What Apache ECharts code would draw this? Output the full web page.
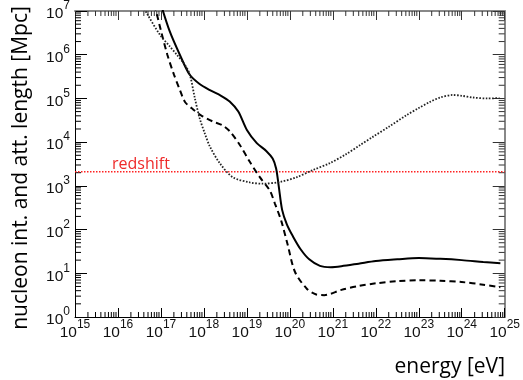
<!DOCTYPE html>
<html><head><meta charset="utf-8">
<script src="https://cdn.jsdelivr.net/npm/echarts@6/dist/echarts.min.js"></script>
<style>html,body{margin:0;padding:0;background:#fff}#c{width:523px;height:380px}</style>
</head><body><div id="c"></div>
<script>
// ---- data (energy in eV, length in Mpc) ----
const energySolid = [1.0e17, 1.58e17, 2.75e17, 4.68e17, 7.94e17, 1.38e18, 2.51e18, 3.98e18, 6.31e18, 1.0e19, 1.70e19, 2.82e19, 3.98e19, 4.79e19, 5.50e19, 6.61e19, 8.51e19, 1.17e20, 1.78e20, 2.82e20, 5.01e20, 8.91e20, 1.58e21, 3.98e21, 1.0e22, 3.16e22, 1.0e23, 3.16e23, 1.0e24, 3.16e24, 7.94e24];
const lengthSolid = [1.41e7, 3.55e6, 1.0e6, 3.47e5, 2.14e5, 1.55e5, 1.15e5, 8.5e4, 5.0e4, 1.9e4, 9.5e3, 6.3e3, 4.2e3, 2.5e3, 1.0e3, 282, 132, 71, 35.5, 20.9, 14.8, 13.8, 14.5, 16.6, 19.1, 20.9, 22.4, 21.4, 20.0, 18.2, 17.0];

const energyDashed = [7.08e16, 1.0e17, 1.41e17, 2.0e17, 2.75e17, 3.63e17, 5.62e17, 8.91e17, 1.58e18, 2.75e18, 3.98e18, 6.92e18, 1.17e19, 2.0e19, 3.39e19, 4.47e19, 6.31e19, 8.91e19, 1.32e20, 2.51e20, 3.98e20, 6.31e20, 1.58e21, 3.98e21, 1.0e22, 3.16e22, 1.0e23, 3.16e23, 1.0e24, 3.16e24, 7.94e24];
const lengthDashed = [1.41e7, 3.55e6, 1.0e6, 3.55e5, 1.58e5, 8.3e4, 5.6e4, 4.0e4, 3.0e4, 2.4e4, 1.78e4, 8.5e3, 3.55e3, 1.58e3, 794, 398, 158, 44.7, 10.7, 4.37, 3.31, 3.16, 4.17, 5.13, 5.89, 6.61, 6.92, 6.76, 6.31, 5.5, 4.79];

const energyDotted = [3.16e16, 4.68e16, 9.55e16, 1.58e17, 2.34e17, 3.55e17, 4.68e17, 6.17e17, 7.94e17, 1.05e18, 1.38e18, 2.34e18, 4.68e18, 1.17e19, 2.34e19, 5.89e19, 1.45e20, 3.39e20, 8.51e20, 2.0e21, 4.27e21, 8.51e21, 2.0e22, 5.25e22, 1.0e23, 1.82e23, 3.16e23, 6.17e23, 1.0e24, 1.82e24, 3.98e24, 7.59e24];
const lengthDotted = [1.78e7, 8.9e6, 2.82e6, 1.58e6, 1.0e6, 6.0e5, 3.55e5, 1.0e5, 3.55e4, 1.58e4, 7.9e3, 3.3e3, 1.58e3, 1.2e3, 1.12e3, 1.23e3, 1.58e3, 2.29e3, 3.31e3, 5.25e3, 8.51e3, 1.32e4, 2.24e4, 4.17e4, 6.03e4, 8.32e4, 1.05e5, 1.2e5, 1.15e5, 1.05e5, 1.0e5, 1.02e5];

const energyRedshift = [1e15, 1e25];
const lengthRedshift = [2.1e3, 2.1e3];

// ---- axes / ticks ----
const xMin = 1e15, xMax = 1e25;
const yMin = 1, yMax = 1e7;
const xDecades = [15, 16, 17, 18, 19, 20, 21, 22, 23, 24];
const yDecades = [0, 1, 2, 3, 4, 5, 6];
const minorMultipliers = [2, 3, 4, 5, 6, 7, 8, 9];
const redshiftLabel = 'redshift';
const xTitle = 'energy [eV]';
const yTitle = 'nucleon int. and att. length [Mpc]';

const zip = (a, b) => a.map((v, i) => [v, b[i]]);

const labelFmt = v => '{b|10}{s|' + Math.round(Math.log10(v)) + '}';
const labelRich = {
  b: { fontSize: 15.5, fontFamily: 'Liberation Sans', color: '#111', padding: [6, 0, 0, 0], verticalAlign: 'bottom' },
  s: { fontSize: 12, fontFamily: 'Liberation Sans', color: '#111', verticalAlign: 'top' }
};

const chart = echarts.init(document.getElementById('c'), null, { renderer: 'canvas' });

function minorTicks(params, api) {
  const children = [];
  const push = (x1, y1, x2, y2, c) => children.push({
    type: 'line', shape: { x1, y1, x2, y2 },
    style: { stroke: c, lineWidth: 1 }
  });
  xDecades.forEach(d => minorMultipliers.forEach(m => {
    const v = m * Math.pow(10, d);
    const pb = api.coord([v, yMin]);
    const pt = api.coord([v, yMax]);
    push(pb[0], pb[1], pb[0], pb[1] - 5, '#000');
    push(pt[0], pt[1], pt[0], pt[1] + 5, '#333');
  }));
  yDecades.forEach(d => minorMultipliers.forEach(m => {
    const v = m * Math.pow(10, d);
    const pl = api.coord([xMin, v]);
    const pr = api.coord([xMax, v]);
    push(pl[0], pl[1], pl[0] + 6, pl[1], '#000');
    push(pr[0], pr[1], pr[0] - 6, pr[1], '#333');
  }));
  return { type: 'group', children };
}

chart.setOption({
  animation: false,
  backgroundColor: '#fff',
  grid: { left: 75, right: 18, top: 11, bottom: 63, containLabel: false },
  xAxis: [
    { type: 'log', logBase: 10, min: xMin, max: xMax, interval: 1, position: 'bottom',
      axisLine: { show: true, lineStyle: { color: '#000', width: 1 } },
      axisTick: { show: true, inside: true, length: 9, lineStyle: { color: '#000' } },
      axisLabel: { show: true, margin: 2, formatter: labelFmt, rich: labelRich },
      splitLine: { show: false }, minorTick: { show: false } },
    { type: 'log', logBase: 10, min: xMin, max: xMax, interval: 1, position: 'top',
      axisLine: { show: true, lineStyle: { color: '#888', width: 2 } },
      axisTick: { show: true, inside: true, length: 9, lineStyle: { color: '#333' } },
      axisLabel: { show: false }, splitLine: { show: false } }
  ],
  yAxis: [
    { type: 'log', logBase: 10, min: yMin, max: yMax, interval: 1, position: 'left',
      axisLine: { show: true, lineStyle: { color: '#000', width: 1 } },
      axisTick: { show: true, inside: true, length: 12, lineStyle: { color: '#000' } },
      axisLabel: { show: true, margin: 5, formatter: labelFmt, rich: labelRich },
      splitLine: { show: false } },
    { type: 'log', logBase: 10, min: yMin, max: yMax, interval: 1, position: 'right',
      axisLine: { show: true, lineStyle: { color: '#888', width: 2 } },
      axisTick: { show: true, inside: true, length: 12, lineStyle: { color: '#333' } },
      axisLabel: { show: false }, splitLine: { show: false } }
  ],
  graphic: [
    { type: 'text', x: 112, y: 172, style: { text: redshiftLabel, fill: '#ee2a2a', font: '16px "Open Sans"', textVerticalAlign: 'bottom' } },
    { type: 'text', x: 505, y: 378, style: { text: xTitle, fill: '#000', font: '21px "Open Sans"', textAlign: 'right', textVerticalAlign: 'bottom' } },
    { type: 'text', x: 21, y: 168, rotation: Math.PI / 2, style: { text: yTitle, fill: '#000', font: '21px "Open Sans"', textAlign: 'center', textVerticalAlign: 'middle' } }
  ],
  series: [
    { type: 'custom', xAxisIndex: 0, yAxisIndex: 0, renderItem: minorTicks, data: [[1e20, 100]], silent: true, z: 1 },
    { type: 'line', name: 'redshift', data: zip(energyRedshift, lengthRedshift), showSymbol: false,
      lineStyle: { color: '#ff2222', width: 1.5, type: [1.5, 1.5] }, z: 3 },
    { type: 'line', name: 'solid', data: zip(energySolid, lengthSolid), showSymbol: false, smooth: 0.3,
      lineStyle: { color: '#000', width: 2, type: 'solid' }, z: 4 },
    { type: 'line', name: 'dashed', data: zip(energyDashed, lengthDashed), showSymbol: false, smooth: 0.3,
      lineStyle: { color: '#000', width: 2, type: [6, 4] }, z: 4 },
    { type: 'line', name: 'dotted', data: zip(energyDotted, lengthDotted), showSymbol: false, smooth: 0.3,
      lineStyle: { color: '#222', width: 1.8, type: [1.6, 1.6] }, z: 5 }
  ]
});
</script>
</body></html>
